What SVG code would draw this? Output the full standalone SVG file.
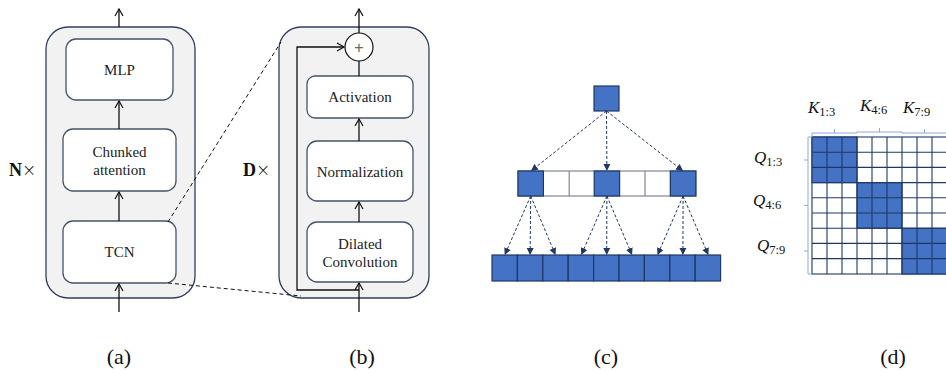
<svg xmlns="http://www.w3.org/2000/svg" width="946" height="371" viewBox="0 0 946 371">
<defs>
<style>
.outer{fill:#F2F2F2;stroke:#2F3F5F;stroke-width:1.3}
.box{fill:#fff;stroke:#44546A;stroke-width:1.3}
.t{font-family:"Liberation Serif",serif;font-size:15px;fill:#222;text-anchor:middle}
.b{font-family:"Liberation Serif",serif;font-size:18px;fill:#111}
.cap{font-family:"Liberation Serif",serif;font-size:22px;fill:#111;text-anchor:middle}
.ar{stroke:#111;stroke-width:1.3;fill:none}
.dash{stroke:#111;stroke-width:1;stroke-dasharray:4,3;fill:none}
.blue{fill:#4472C4;stroke:#1F3864;stroke-width:1.2}
.wc{fill:#fff;stroke:#7F8794;stroke-width:1.2}
.ca{stroke:#1F3864;stroke-width:1;stroke-dasharray:3,2;fill:none}
.g{fill:#fff;stroke:#1F3864;stroke-width:1.1}
.gb{fill:#4472C4;stroke:#1F3864;stroke-width:1.1}
.br{stroke:#8EA9DB;stroke-width:1;fill:none}
.m{font-family:"Liberation Serif",serif;font-style:italic;font-size:17px;fill:#111}
.s{font-style:normal;font-size:12.5px}
</style>
<marker id="oa" markerWidth="10" markerHeight="10" refX="8" refY="5" orient="auto" markerUnits="userSpaceOnUse">
<polyline points="1,1 8,5 1,9" fill="none" stroke="#111" stroke-width="1.2"/>
</marker>
<marker id="fa" markerWidth="8" markerHeight="8" refX="7" refY="4" orient="auto" markerUnits="userSpaceOnUse">
<polygon points="0,0.5 7,4 0,7.5" fill="#1F3864"/>
</marker>
</defs>

<!-- Panel (a) -->
<g id="panel-a">
<rect class="outer" x="46" y="27" width="149" height="271" rx="22"/>
<text class="b" x="9" y="176"><tspan font-weight="bold">N</tspan><tspan font-family="DejaVu Sans,sans-serif" font-weight="200" font-size="17">×</tspan></text>
</g>
<g id="mlp"><rect class="box" x="66" y="39" width="107" height="61" rx="10"/><text class="t" x="119.5" y="75">MLP</text></g>
<g id="chunked"><rect class="box" x="63" y="129" width="113" height="62" rx="10"/><text class="t" x="119.5" y="157">Chunked</text><text class="t" x="119.5" y="175">attention</text></g>
<g id="tcn"><rect class="box" x="63" y="221" width="113" height="62" rx="10"/><text class="t" x="119.5" y="257">TCN</text></g>

<!-- Panel (b) -->
<g id="panel-b">
<rect class="outer" x="279" y="27" width="150" height="271" rx="22"/>
<text class="b" x="243" y="176"><tspan font-weight="bold">D</tspan><tspan font-family="DejaVu Sans,sans-serif" font-weight="200" font-size="17">×</tspan></text>
</g>
<g id="plus"><circle cx="359" cy="47" r="14" fill="#fff" stroke="#111" stroke-width="1.2"/><text x="359" y="53" font-family="Liberation Sans,sans-serif" font-size="16" fill="#666" text-anchor="middle">+</text></g>
<g id="activation"><rect class="box" x="307" y="76" width="106" height="42" rx="8"/><text class="t" x="360" y="102">Activation</text></g>
<g id="normalization"><rect class="box" x="307" y="141" width="106" height="60" rx="10"/><text class="t" x="360" y="177">Normalization</text></g>
<g id="dilated"><rect class="box" x="307" y="222" width="106" height="60" rx="10"/><text class="t" x="360" y="249">Dilated</text><text class="t" x="360" y="267">Convolution</text></g>

<g id="connectors">
<line class="ar" x1="119" y1="27" x2="119" y2="9" marker-end="url(#oa)"/>
<line class="ar" x1="119" y1="129" x2="119" y2="101" marker-end="url(#oa)"/>
<line class="ar" x1="119" y1="221" x2="119" y2="192" marker-end="url(#oa)"/>
<line class="ar" x1="119" y1="312" x2="119" y2="284" marker-end="url(#oa)"/>
<line class="dash" x1="168" y1="222" x2="281" y2="42"/>
<line class="dash" x1="168" y1="283" x2="301" y2="296"/>
<line class="ar" x1="359" y1="33" x2="359" y2="9" marker-end="url(#oa)"/>
<line class="ar" x1="359" y1="76" x2="359" y2="61"/>
<line class="ar" x1="359" y1="141" x2="359" y2="119" marker-end="url(#oa)"/>
<line class="ar" x1="359" y1="222" x2="359" y2="202" marker-end="url(#oa)"/>
<line class="ar" x1="359" y1="312" x2="359" y2="283" marker-end="url(#oa)"/>
<polyline class="ar" stroke-width="1.8" points="359,290 297,290 297,47 344,47" marker-end="url(#oa)"/>
</g>

<!-- Panel (c) -->
<g id="top-node"><rect class="blue" x="594" y="86" width="25" height="25"/></g>
<g id="mid-row">
<rect class="wc" x="518" y="171" width="178" height="25"/>
<rect class="blue" x="518" y="171" width="25.4" height="25"/>
<line class="wc" x1="569.2" y1="171" x2="569.2" y2="196"/>
<rect class="blue" x="594.2" y="171" width="25.4" height="25"/>
<line class="wc" x1="645" y1="171" x2="645" y2="196"/>
<line class="wc" x1="670.4" y1="171" x2="670.4" y2="196"/>
<rect class="blue" x="670.4" y="171" width="25.4" height="25"/>
</g>
<g id="bottom-row">
<rect class="blue" x="492" y="255" width="25.4" height="26"/>
<rect class="blue" x="517.4" y="255" width="25.4" height="26"/>
<rect class="blue" x="542.8" y="255" width="25.4" height="26"/>
<rect class="blue" x="568.2" y="255" width="25.4" height="26"/>
<rect class="blue" x="593.6" y="255" width="25.4" height="26"/>
<rect class="blue" x="619" y="255" width="25.4" height="26"/>
<rect class="blue" x="644.4" y="255" width="25.4" height="26"/>
<rect class="blue" x="669.8" y="255" width="25.4" height="26"/>
<rect class="blue" x="695.2" y="255" width="25.4" height="26"/>
</g>
<g id="tree-connectors">
<line class="ca" x1="606.5" y1="111" x2="531" y2="171" marker-end="url(#fa)"/>
<line class="ca" x1="606.5" y1="111" x2="606.9" y2="171" marker-end="url(#fa)"/>
<line class="ca" x1="606.5" y1="111" x2="683" y2="171" marker-end="url(#fa)"/>
<line class="ca" x1="530.7" y1="196" x2="504.7" y2="255" marker-end="url(#fa)"/>
<line class="ca" x1="530.7" y1="196" x2="530.1" y2="255" marker-end="url(#fa)"/>
<line class="ca" x1="530.7" y1="196" x2="555.5" y2="255" marker-end="url(#fa)"/>
<line class="ca" x1="606.9" y1="196" x2="581.3" y2="255" marker-end="url(#fa)"/>
<line class="ca" x1="606.9" y1="196" x2="606.7" y2="255" marker-end="url(#fa)"/>
<line class="ca" x1="606.9" y1="196" x2="632.1" y2="255" marker-end="url(#fa)"/>
<line class="ca" x1="683.1" y1="196" x2="657.5" y2="255" marker-end="url(#fa)"/>
<line class="ca" x1="683.1" y1="196" x2="682.9" y2="255" marker-end="url(#fa)"/>
<line class="ca" x1="683.1" y1="196" x2="708.3" y2="255" marker-end="url(#fa)"/>
</g>

<!-- Panel (d) -->
<g id="attention-mask">
<rect class="g" x="812" y="137" width="135" height="137"/>
<rect class="gb" x="812" y="137" width="45" height="45.6"/>
<rect class="gb" x="857" y="182.6" width="45" height="45.6"/>
<rect class="gb" x="902" y="228.2" width="45" height="45.8"/>
<g stroke="#1F3864" stroke-width="1.1">
<line x1="827" y1="137" x2="827" y2="274"/><line x1="842" y1="137" x2="842" y2="274"/><line x1="857" y1="137" x2="857" y2="274"/>
<line x1="872" y1="137" x2="872" y2="274"/><line x1="887" y1="137" x2="887" y2="274"/><line x1="902" y1="137" x2="902" y2="274"/>
<line x1="917" y1="137" x2="917" y2="274"/><line x1="932" y1="137" x2="932" y2="274"/>
<line x1="812" y1="152.2" x2="947" y2="152.2"/><line x1="812" y1="167.4" x2="947" y2="167.4"/><line x1="812" y1="182.6" x2="947" y2="182.6"/>
<line x1="812" y1="197.8" x2="947" y2="197.8"/><line x1="812" y1="213" x2="947" y2="213"/><line x1="812" y1="228.2" x2="947" y2="228.2"/>
<line x1="812" y1="243.4" x2="947" y2="243.4"/><line x1="812" y1="258.6" x2="947" y2="258.6"/>
</g>
<path class="br" d="M812,137 V133 H857 V132 H902 V133 H947 M834.5,133 V129 M879.5,132 V128 M924.5,133 V129"/>
<path class="br" d="M812,137 H808 V274 H812 M808,160 H804 M808,205.4 H804 M808,251 H804"/>
<text class="m" x="808" y="113">K<tspan class="s" dy="3">1:3</tspan></text>
<text class="m" x="860" y="111">K<tspan class="s" dy="3">4:6</tspan></text>
<text class="m" x="903" y="113">K<tspan class="s" dy="3">7:9</tspan></text>
<text class="m" x="754" y="163">Q<tspan class="s" dy="3">1:3</tspan></text>
<text class="m" x="753" y="206">Q<tspan class="s" dy="3">4:6</tspan></text>
<text class="m" x="757" y="251">Q<tspan class="s" dy="3">7:9</tspan></text>
</g>

<g id="captions">
<text class="cap" x="119" y="364">(a)</text>
<text class="cap" x="362" y="364">(b)</text>
<text class="cap" x="606" y="364">(c)</text>
<text class="cap" x="893" y="364">(d)</text>
</g>
</svg>
